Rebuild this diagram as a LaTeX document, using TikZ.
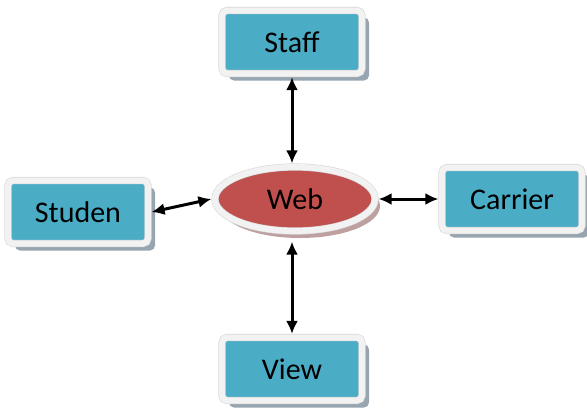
\documentclass[tikz,border=0pt]{standalone}
\usepackage{fontspec}
\setmainfont{Carlito}
\usepackage{tikz}
\usetikzlibrary{arrows.meta, positioning, shapes.geometric, shadows}
\definecolor{boxteal}{RGB}{75,172,198}
\definecolor{webred}{RGB}{192,80,77}
\definecolor{framegray}{RGB}{242,242,242}
\definecolor{rimgray}{RGB}{215,215,215}
\definecolor{shadowblue}{RGB}{150,165,175}
\definecolor{shadowred}{RGB}{190,160,160}

\begin{document}
\begin{tikzpicture}[
            x=1pt, y=-1pt,
            block/.style={rectangle, rounded corners=5pt, fill=boxteal, draw=rimgray, double=framegray,
                double distance=6pt, line width=0.6pt, outer sep=3.6pt, inner sep=0pt,
                minimum width=140pt, minimum height=63pt, font=\fontsize{30}{36}\selectfont,
                drop shadow={shadow xshift=7pt, shadow yshift=-7pt, fill=shadowblue, opacity=1}},
            hub/.style={ellipse, fill=webred, draw=rimgray, double=framegray, double distance=6pt,
                line width=0.6pt, outer sep=3.6pt, inner sep=0pt, minimum width=160pt, minimum height=64pt,
                font=\fontsize{30}{36}\selectfont,
                drop shadow={shadow xshift=5pt, shadow yshift=-7pt, fill=shadowred, opacity=1}},
            link/.style={draw=black, line width=3pt, {Latex[length=13pt,width=12pt]}-{Latex[length=13pt,width=12pt]}}
        ]
        \useasboundingbox (0,0) rectangle (587,408);

        \node[hub] (web) at (295,199) {Web};
        \node[block] (staff) at (292,42) {Staff};
        \node[block] (studen) at (78,212) {Studen};
        \node[block] (carrier) at (512,199) {Carrier};
        \node[block] (view) at (292,369) {View};

        \draw[link] (staff.south) -- (staff.south |- web.north);
        \draw[link, shorten <=7pt] (view.north |- web.south) -- (view.north);
        \draw[link] (studen.east) -- (web.west);
        \draw[link] (web.east) -- (carrier.west);

    \end{tikzpicture}
\end{document}
